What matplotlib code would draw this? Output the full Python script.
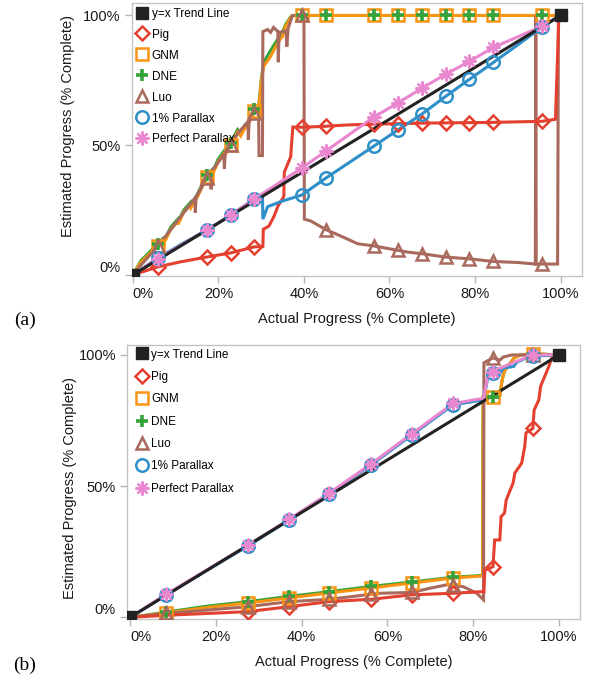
import matplotlib
matplotlib.use("Agg")
import matplotlib.pyplot as plt
import numpy as np
from matplotlib.lines import Line2D

plt.rcParams['font.family'] = ['Liberation Sans', 'DejaVu Sans']

LABELS = ['y=x Trend Line', 'Pig', 'GNM', 'DNE', 'Luo', '1% Parallax', 'Perfect Parallax']
X_TICKS = [0, 20, 40, 60, 80, 100]
Y_TICKS = [0, 50, 100]

# ---- panel (a) ----
A_MARK_X = [5.8, 17.3, 22.9, 28.3, 39.5, 45.1, 56.3, 61.9, 67.5, 73.1, 78.7, 84.3, 95.6]
A_TREND_X = [0, 100]
A_TREND_Y = [0, 100]
A_PIG_X = [0, 5.8, 11, 17.3, 22.9, 28.3, 30.4, 30.5, 31.8, 33, 33.9, 35.3, 35.4, 36.9, 37.4, 39.5,
           45.1, 50, 56.3, 61.9, 67.5, 73.1, 78.7, 84.3, 90, 95.6, 98.8, 99.2, 99.6, 100]
A_PIG_Y = [0, 3.1, 5, 6.9, 8.5, 10.8, 11, 17.6, 18.8, 22.6, 26.4, 30.3, 39.5, 45.6, 57, 56.9,
           57.3, 57.8, 58.1, 58.3, 58.5, 58.6, 58.7, 58.8, 59, 59.2, 60, 80, 100, 100]
A_GNM_X = [0, 1.9, 5.8, 7, 7.2, 8.9, 10.5, 10.6, 11.9, 13.5, 13.6, 15.2, 17.3, 18.5, 18.6, 19.9,
           21.2, 21.3, 22.9, 24.5, 25.2, 26.5, 26.6, 28.3, 29.4, 30, 30.6, 32.2, 33.9, 35, 35.7,
           36.9, 37.5, 39.5, 45.1, 56.3, 61.9, 67.5, 73.1, 78.7, 84.3, 95.6, 100]
A_GNM_Y = [0, 4.9, 11.2, 13, 12, 17.7, 20.5, 19.5, 24.2, 27, 26, 30.4, 37.7, 39.5, 38.5, 43.5,
           46.5, 45.5, 50, 55, 53.5, 57.5, 56.5, 63, 63.8, 74, 80.4, 84.2, 89.6, 92, 95.8,
           99.2, 100, 100, 100, 100, 100, 100, 100, 100, 100, 100, 100]
A_DNE_X = A_GNM_X
A_DNE_Y = [0, 5.5, 12, 14, 13, 18.5, 21.5, 20.5, 25, 28, 27, 31.5, 38.5, 40.5, 39.5, 44.5,
           47.5, 46.5, 51, 56, 54.5, 58.5, 57.5, 64, 64.5, 75, 82, 86.5, 91, 93.5, 96.5,
           99.5, 100, 100, 100, 100, 100, 100, 100, 100, 100, 100, 100]
A_LUO_X = [0, 2, 5.8, 8.9, 11.9, 14.5, 14.6, 14.8, 17.3, 18.2, 18.3, 18.5, 21.3, 21.4, 21.6,
           22.9, 24.5, 26.9, 27, 27.2, 28.3, 29.4, 29.5, 30.3, 30.4, 31.5, 32.2, 32.9, 33.9, 34,
           34.2, 35.8, 36, 36.3, 37.3, 39.5, 40, 40.1, 41.6, 45.1, 48.6, 52.6, 56.3, 61.9, 64.3,
           67.5, 73.1, 78.7, 84.3, 90, 94.1, 94.2, 94.3, 95.6, 99.3, 99.5, 100]
A_LUO_Y = [0, 4, 11, 17.5, 24, 29.5, 24, 30, 37.5, 39.5, 33, 40, 46.5, 41, 47,
           50, 54.5, 59, 52, 60, 62.5, 63, 46, 46, 93.8, 94.6, 93.5, 95.4, 93.8, 82,
           93.5, 94, 88, 95, 100, 100, 100, 21.5, 20.8, 17.5, 15, 12, 11.2, 9.5, 8.8,
           8.2, 6.9, 6.2, 5.2, 4.8, 4.2, 100, 4.2, 4.2, 4.2, 100, 100]
A_P1_X = [0, 5.8, 11.5, 17.3, 22.9, 28.3, 30.3, 30.4, 31.5, 35, 39.5, 45.1, 56.3, 61.9, 67.5,
          73.1, 78.7, 84.3, 95.6, 100]
A_P1_Y = [0, 6.5, 12, 17.3, 23.1, 29.2, 30.5, 21.5, 26.3, 28.5, 30.8, 37.3, 49.6, 55.8, 61.9,
          68.8, 75.4, 81.9, 95.4, 100]
A_PP_X = [0, 5.8, 17.3, 22.9, 28.3, 39.5, 45.1, 56.3, 61.9, 67.5, 73.1, 78.7, 84.3, 95.6, 100]
A_PP_Y = [0, 6.2, 17.3, 23.1, 29.2, 41.2, 47.7, 60.8, 66.2, 71.9, 77.3, 82.3, 87.7, 95.8, 100]

# ---- panel (b) ----
B_MARK_X = [8.4, 27.5, 37.1, 46.4, 56.2, 65.7, 75.3, 84.6, 93.9]
B_TREND_X = [0, 100]
B_TREND_Y = [0, 100]
B_PIG_X = [0, 8.4, 18, 27.5, 37.1, 46.4, 56.2, 65.7, 75.3, 82, 82.5, 82.7, 84.6, 85, 86.2,
           86.5, 87.3, 87.7, 89.3, 89.7, 91.3, 92, 92.3, 93.9, 94.2, 95.3, 95.7, 97.6, 98.4, 100]
B_PIG_Y = [0, 0.8, 1.5, 2.2, 4.1, 6, 6.9, 8.6, 9.2, 9.8, 9.8, 18, 19.3, 29.5, 29.5,
           38.4, 39.8, 44.8, 51.2, 55, 58.8, 65, 70.3, 72, 79, 82.9, 88, 95.5, 99.3, 100]
B_GNM_X = [0, 8.4, 18, 27.5, 37.1, 46.4, 56.2, 65.7, 75.3, 82.2, 82.3, 84.6, 86.2, 86.8, 87.3,
           89.5, 91, 93.9, 100]
B_GNM_Y = [0, 1.7, 3.8, 5.5, 7.4, 9.3, 11.2, 13.1, 15, 15.8, 84, 84, 84.5, 91, 93.9,
           98.8, 100, 100.5, 100]
B_DNE_X = B_GNM_X
B_DNE_Y = [0, 2, 4.3, 6, 8, 9.8, 11.8, 13.5, 15.3, 16, 84, 84, 84.5, 91, 94,
           98.8, 100, 100.5, 100]
B_LUO_X = [0, 8.4, 18, 27.5, 37.1, 46.4, 56.2, 58.3, 65.7, 69.9, 73.8, 75.3, 77.7, 80.8, 82.4,
           82.5, 84.6, 86.2, 87, 89, 93.9, 100]
B_LUO_Y = [0, 1.5, 2.8, 4.1, 6, 6.9, 8.8, 9.2, 9.5, 11.1, 12.4, 12.2, 11.7, 9.2, 6.7,
           97, 98.9, 98, 99.2, 100, 100, 100]
B_P1_X = [0, 8.4, 18, 27.5, 37.1, 46.4, 56.2, 65.7, 75.3, 82.4, 83.6, 84.6, 86.2, 87, 89.4,
          90.2, 92.5, 93.9, 100]
B_P1_Y = [0, 8.6, 18, 27.2, 37.1, 47, 58.1, 69.5, 81, 82.9, 93, 93, 93, 95, 95.6,
          97.3, 98.9, 99.6, 100]
B_PP_X = [0, 8.4, 27.5, 37.1, 46.4, 56.2, 65.7, 75.3, 82.4, 83.6, 84.6, 87, 90, 93.9, 100]
B_PP_Y = [0, 8.8, 27.5, 37.4, 47.3, 58.5, 70, 81.5, 83.5, 93.5, 93.5, 95.5, 97.5, 100, 100]

STYLE = {
    'y=x Trend Line': dict(color='#222222', marker='s', ms=8.5, mfc='#222222', mew=1),
    'Pig': dict(color='#e4402f', marker='D', ms=6.8, mfc='none', mew=1.8),
    'GNM': dict(color='#fb9412', marker='s', ms=8.3, mfc='none', mew=1.8),
    'DNE': dict(color='#34a33a', marker='+', ms=8, mfc='none', mew=2.6),
    'Luo': dict(color='#a9695d', marker='^', ms=8.5, mfc='none', mew=1.8),
    '1% Parallax': dict(color='#2f8fc9', marker='o', ms=9, mfc='none', mew=1.8),
    'Perfect Parallax': dict(color='#e987cf', marker=(8, 2, 0), ms=10, mfc='none', mew=1.6),
}
LINE_ORDER = ['DNE', 'GNM', 'Luo', 'Pig', '1% Parallax', 'Perfect Parallax']
MARK_ORDER = ['Pig', 'GNM', 'DNE', 'Luo', '1% Parallax', 'Perfect Parallax']


def mark_index(x, marks):
    idx = []
    for m in marks:
        for i, v in enumerate(x):
            if abs(v - m) < 1e-6:
                idx.append(i)
                break
    return idx


def draw_panel(ax, data, marks, xlim, ylim, ylab_pos, xlab_y, leg_pos, leg_spacing):
    for name in LINE_ORDER:
        x, y = data[name]
        ax.plot(x, y, color=STYLE[name]['color'], lw=2.2, solid_joinstyle='miter', zorder=2)
    tx, ty = data['y=x Trend Line']
    ax.plot(tx, ty, color='#222222', lw=2.2, zorder=3)
    for name in MARK_ORDER:
        x, y = data[name]
        st = STYLE[name]
        idx = mark_index(x, marks)
        ax.plot(np.array(x)[idx], np.array(y)[idx], ls='none', marker=st['marker'],
                ms=st['ms'], mfc=st['mfc'], mec=st['color'], mew=st['mew'], zorder=4)
    st = STYLE['y=x Trend Line']
    ax.plot(tx, ty, ls='none', marker='s', ms=st['ms'], color='#222222', zorder=5)

    ax.set_xlim(*xlim)
    ax.set_ylim(*ylim)
    ax.set_xticks(X_TICKS, ['%d%%' % v for v in X_TICKS])
    ax.set_yticks(Y_TICKS, ['%d%%' % v for v in Y_TICKS])
    ax.get_xticklabels()[0].set_ha('left')
    ax.get_yticklabels()[0].set_va('bottom')
    ax.tick_params(direction='out', length=5, width=1, color='#b5b5b5', labelsize=10.5,
                   labelcolor='#1a1a1a', pad=3)
    for sp in ax.spines.values():
        sp.set_color('#c4c4c4')
        sp.set_linewidth(1)
    ax.set_xlabel('Actual Progress (% Complete)', fontsize=10.5, color='#1a1a1a')
    ax.set_ylabel('Estimated Progress (% Complete)', fontsize=10.5, color='#1a1a1a')
    ax.xaxis.set_label_coords(0.5, xlab_y)
    ax.yaxis.set_label_coords(*ylab_pos)

    handles = []
    for name in LABELS:
        st = STYLE[name]
        handles.append(Line2D([], [], ls='none', marker=st['marker'], ms=st['ms'],
                              mfc=st['mfc'], mec=st['color'], mew=st['mew']))
    ax.legend(handles, LABELS, loc='upper left', bbox_to_anchor=leg_pos,
              frameon=False, fontsize=8.5, handlelength=1.0, handletextpad=0.3,
              labelspacing=leg_spacing, borderpad=0, borderaxespad=0)


fig = plt.figure(figsize=(5.9, 6.85), dpi=100)
ax_a = fig.add_axes([0.2237, 0.5971, 0.7627, 0.3985])
ax_b = fig.add_axes([0.2153, 0.0964, 0.7678, 0.4])

data_a = {
    'y=x Trend Line': (A_TREND_X, A_TREND_Y),
    'Pig': (A_PIG_X, A_PIG_Y),
    'GNM': (A_GNM_X, A_GNM_Y),
    'DNE': (A_DNE_X, A_DNE_Y),
    'Luo': (A_LUO_X, A_LUO_Y),
    '1% Parallax': (A_P1_X, A_P1_Y),
    'Perfect Parallax': (A_PP_X, A_PP_Y),
}
data_b = {
    'y=x Trend Line': (B_TREND_X, B_TREND_Y),
    'Pig': (B_PIG_X, B_PIG_Y),
    'GNM': (B_GNM_X, B_GNM_Y),
    'DNE': (B_DNE_X, B_DNE_Y),
    'Luo': (B_LUO_X, B_LUO_Y),
    '1% Parallax': (B_P1_X, B_P1_Y),
    'Perfect Parallax': (B_PP_X, B_PP_Y),
}

draw_panel(ax_a, data_a, A_MARK_X, (-0.2, 105.0), (-0.4, 104.8), (-0.127, 0.55), -0.132,
           (0.01, 0.983), 0.76)
draw_panel(ax_b, data_b, B_MARK_X, (-0.7, 104.9), (-0.6, 103.8), (-0.11, 0.478), -0.131,
           (0.02, 0.987), 0.88)

fig.text(0.042, 0.532, '(a)', family='Liberation Serif', fontsize=14, ha='center', va='center')
fig.text(0.042, 0.029, '(b)', family='Liberation Serif', fontsize=14, ha='center', va='center')

fig.savefig('out.png', dpi=100)
